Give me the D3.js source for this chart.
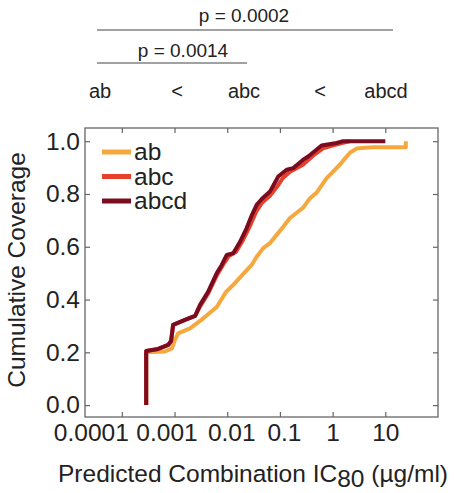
<!DOCTYPE html>
<html>
<head>
<meta charset="utf-8">
<script src="https://cdn.jsdelivr.net/npm/d3@7"></script>
<style>
  body { margin: 0; background: #fff; }
  svg text { font-family: "Liberation Sans", Arial, sans-serif; fill: #222; }
  .axis path { display: none; }
  .axis line { stroke: #666; stroke-width: 1.2; }
</style>
</head>
<body>
<div id="chart"></div>
<script>
// cumulative coverage vs predicted IC80 (ug/ml)
var seriesNames = ["ab", "abc", "abcd"]
var seriesColors = ["#f6a83f", "#e8412b", "#7b0c20"]

var ab = [[2.9e-4,0],[2.9e-4,0.201],[3.9e-4,0.201],[6.6e-4,0.203],[8.9e-4,0.215],[1.02e-3,0.247],
  [1.17e-3,0.272],[1.97e-3,0.291],[3.52e-3,0.329],[6.33e-3,0.372],[9.5e-3,0.429],[0.0129,0.455],
  [0.0202,0.497],[0.0291,0.531],[0.0362,0.562],[0.0483,0.595],[0.0647,0.614],[0.0867,0.645],
  [0.116,0.676],[0.155,0.709],[0.208,0.729],[0.277,0.748],[0.372,0.784],[0.498,0.805],[0.769,0.860],
  [1.01,0.884],[1.37,0.911],[1.71,0.934],[2.13,0.956],[2.85,0.972],[4.1,0.975],[5.9,0.977],
  [24.5,0.977],[24.5,1.0]]

var abc = [[2.9e-4,0],[2.9e-4,0.205],[4.9e-4,0.213],[7.6e-4,0.228],[8.6e-4,0.243],[9.4e-4,0.304],
  [1.58e-3,0.323],[2.46e-3,0.338],[3.1e-3,0.376],[4.4e-3,0.425],[6.4e-3,0.493],[8.3e-3,0.531],
  [0.0108,0.565],[0.0147,0.581],[0.020,0.626],[0.027,0.679],[0.0352,0.732],[0.0457,0.767],
  [0.0647,0.793],[0.0879,0.827],[0.114,0.861],[0.155,0.884],[0.273,0.911],[0.424,0.945],
  [0.655,0.973],[1.16,0.987],[1.87,0.998],[2.13,1.0]]

var abcd = [[2.9e-4,0],[2.9e-4,0.205],[4.9e-4,0.213],[7.6e-4,0.228],[8.6e-4,0.243],[9.4e-4,0.304],
  [1.58e-3,0.323],[2.46e-3,0.338],[3.05e-3,0.380],[4.33e-3,0.429],[6.33e-3,0.500],[7.87e-3,0.531],
  [9.8e-3,0.569],[0.0131,0.576],[0.0175,0.619],[0.0234,0.671],[0.0295,0.721],[0.0362,0.759],
  [0.0457,0.782],[0.0647,0.809],[0.0931,0.866],[0.134,0.892],[0.179,0.898],[0.277,0.930],
  [0.344,0.942],[0.618,0.984],[1.19,0.993],[1.59,1.0],[10,1.0]]

var xTicks = [1e-4, 1e-3, 1e-2, 1e-1, 1, 10]
var xTickLabels = ["0.0001", "0.001", "0.01", "0.1", "1", "10"]
var yTicks = [0, 0.2, 0.4, 0.6, 0.8, 1.0]

var orderLabels = ["ab", "<", "abc", "<", "abcd"]
var pLabels = ["p = 0.0002", "p = 0.0014"]

var width = 454, height = 493
var plotL = 85, plotR = 438, plotT = 128, plotB = 417
var fs = 24.5

var svg = d3.select("#chart").append("svg")
    .attr("width", width)
    .attr("height", height)

var x = d3.scaleLog().domain([2e-5, 100]).range([plotL, plotR])
var y = d3.scaleLinear().domain([-0.045, 1.05]).range([plotB, plotT])

// frame
svg.append("rect")
    .attr("x", plotL).attr("y", plotT)
    .attr("width", plotR - plotL).attr("height", plotB - plotT)
    .attr("fill", "none").attr("stroke", "#666").attr("stroke-width", 1.3)

// axes, ticks pointing inward
var nudge = [-31, -8, 4, 4, 0, 0]
svg.append("g").attr("class", "axis")
    .attr("transform", `translate(0,${plotB})`)
    .call(d3.axisBottom(x).tickValues(xTicks).tickSize(-5).tickPadding(7)
        .tickFormat((d, i) => xTickLabels[i]))
    .selectAll("text")
    .attr("font-size", fs)
    .attr("dx", (d, i) => nudge[i])

svg.append("g").attr("class", "axis")
    .attr("transform", `translate(0,${plotT})`)
    .call(d3.axisTop(x).tickValues(xTicks).tickSize(-5).tickFormat(""))

svg.append("g").attr("class", "axis")
    .attr("transform", `translate(${plotL},0)`)
    .call(d3.axisLeft(y).tickValues(yTicks).tickSize(-5).tickPadding(5)
        .tickFormat(d3.format(".1f")))
    .selectAll("text")
    .attr("font-size", fs)

svg.append("g").attr("class", "axis")
    .attr("transform", `translate(${plotR},0)`)
    .call(d3.axisRight(y).tickValues(yTicks).tickSize(-5).tickFormat(""))

// curves
var line = d3.line()
    .x(d => x(d[0]))
    .y(d => y(d[1]))

var allSeries = [ab, abc, abcd]
svg.append("g").selectAll("path")
    .data(allSeries)
    .enter().append("path")
    .attr("d", line)
    .attr("fill", "none")
    .attr("stroke", (d, i) => seriesColors[i])
    .attr("stroke-width", 4)
    .attr("stroke-linejoin", "round")

// legend
var legend = svg.append("g")
seriesNames.forEach(function(name, i) {
    var ly = 152 + i * 24.5
    legend.append("line")
        .attr("x1", 102).attr("x2", 131)
        .attr("y1", ly).attr("y2", ly)
        .attr("stroke", seriesColors[i])
        .attr("stroke-width", 5)
    legend.append("text")
        .attr("x", 134).attr("y", ly + 8)
        .attr("font-size", fs)
        .text(name)
})

// axis titles
svg.append("text")
    .attr("transform", "translate(25,270) rotate(-90)")
    .attr("text-anchor", "middle")
    .attr("font-size", fs)
    .text("Cumulative Coverage")

var xt = svg.append("text")
    .attr("x", 253).attr("y", 482)
    .attr("text-anchor", "middle")
    .attr("font-size", fs)
xt.append("tspan").text("Predicted Combination IC")
xt.append("tspan").attr("dy", 5).text("80")
xt.append("tspan").attr("dy", -5).text(" (µg/ml)")

// significance annotation above the plot
var orderX = [100, 177, 244, 320, 386]
svg.append("g").selectAll("text")
    .data(orderLabels)
    .enter().append("text")
    .attr("x", (d, i) => orderX[i])
    .attr("y", 98)
    .attr("text-anchor", "middle")
    .attr("font-size", 20)
    .text(d => d)

svg.append("line")
    .attr("x1", 97).attr("x2", 393).attr("y1", 30).attr("y2", 30)
    .attr("stroke", "#444").attr("stroke-width", 1.2)
svg.append("text")
    .attr("x", 244).attr("y", 22)
    .attr("text-anchor", "middle")
    .attr("font-size", 19)
    .text(pLabels[0])

svg.append("line")
    .attr("x1", 97).attr("x2", 247).attr("y1", 63).attr("y2", 63)
    .attr("stroke", "#444").attr("stroke-width", 1.2)
svg.append("text")
    .attr("x", 183).attr("y", 57)
    .attr("text-anchor", "middle")
    .attr("font-size", 19)
    .text(pLabels[1])
</script>
</body>
</html>
